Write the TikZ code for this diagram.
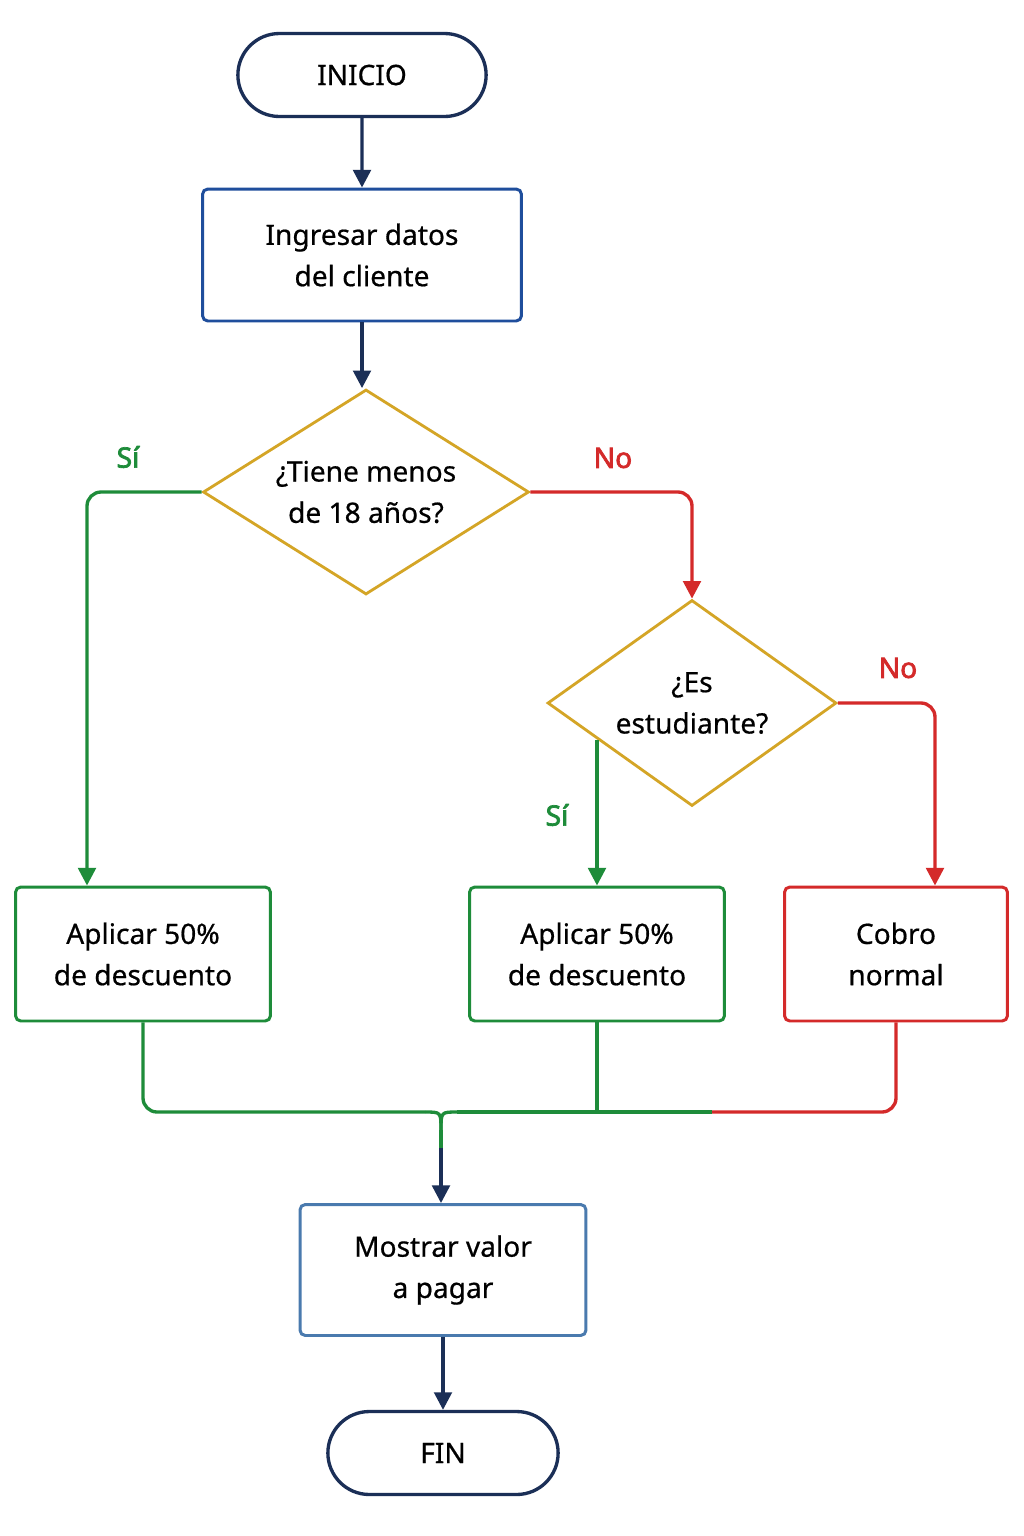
\documentclass[tikz,border=0pt]{standalone}
\usepackage{fontspec}
\setmainfont{Noto Sans}[AutoFakeBold=2.5]
\newfontfamily\bodyfont{Noto Sans}[FakeBold=0.6]
\usetikzlibrary{shapes.geometric,shapes.misc,arrows.meta}
\definecolor{navy}{HTML}{1B2F57}
\definecolor{boxblue}{HTML}{1F4E9C}
\definecolor{steel}{HTML}{4A7AAE}
\definecolor{gold}{HTML}{D4A526}
\definecolor{okgreen}{HTML}{1E8C3A}
\definecolor{nored}{HTML}{D42A2A}
\tikzset{
  term/.style={rounded rectangle, draw=navy, line width=1.9pt, minimum width=5.2cm, minimum height=1.66cm, font=\bodyfont\fontsize{16}{20}\selectfont},
  procbox/.style={rectangle, rounded corners=3pt, line width=1.7pt, align=center, font=\bodyfont\fontsize{16}{23.5}\selectfont},
  decis/.style={diamond, draw=gold, line width=1.6pt, inner sep=0pt, align=center, font=\bodyfont\fontsize{16}{23.5}\selectfont},
  arr/.style={-{Triangle[length=10pt,width=10pt]}},
  nline/.style={draw=navy, line width=1.9pt},
  gline/.style={draw=okgreen, line width=1.9pt},
  rline/.style={draw=nored, line width=1.9pt},
  lbl/.style={font=\fontsize{16}{20}\selectfont\bfseries}
}
\begin{document}
\begin{tikzpicture}[x=0.02cm,y=-0.02cm]
\useasboundingbox[fill=white] (0,0) rectangle (1024,1536);
\node[term] (inicio) at (362,75) {INICIO};
\node[procbox, draw=boxblue, minimum width=6.38cm, minimum height=2.64cm] (ingresar) at (362,255) {Ingresar datos\\del cliente};
\node[decis, aspect=1.59, minimum width=6.52cm, minimum height=4.1cm] (d1) at (366,492) {¿Tiene menos\\de 18 años?};
\node[decis, aspect=1.4, minimum width=5.78cm, minimum height=4.12cm] (d2) at (692,703) {¿Es\\estudiante?};
\node[procbox, draw=okgreen, minimum width=5.1cm, minimum height=2.68cm] (b1) at (143,954) {Aplicar 50\%\\de descuento};
\node[procbox, draw=okgreen, minimum width=5.1cm, minimum height=2.68cm] (b2) at (597,954) {Aplicar 50\%\\de descuento};
\node[procbox, draw=nored, minimum width=4.46cm, minimum height=2.68cm] (b3) at (896,954) {Cobro\\normal};
\node[procbox, draw=steel, minimum width=5.72cm, minimum height=2.62cm] (b4) at (443,1270) {Mostrar valor\\a pagar};
\node[term, minimum width=4.84cm] (fin) at (443,1453) {FIN};
\node[lbl, text=okgreen] (si1) at (128,457) {Sí};
\node[lbl, text=nored] (no1) at (613,458) {No};
\node[lbl, text=nored] (no2) at (898,668) {No};
\node[lbl, text=okgreen] (si2) at (557,815) {Sí};
\coordinate (c1) at (d1.west -| 87,0);
\coordinate (c2) at (d1.east -| d2.north);
\coordinate (c3) at (d2.east -| 935,0);
\coordinate (s2) at (597,740);
\coordinate (j) at (441,1112);
\coordinate (jl) at (425,1112);
\coordinate (jr) at (457,1112);
\coordinate (jb) at (441,1130);
\coordinate (jm) at (441,1148);
\coordinate (rm) at (712,1112);
% connectors
\draw[nline, arr] (inicio) -- (ingresar);
\draw[nline, arr] (ingresar) -- (ingresar.south |- d1.north);
\draw[gline, arr, rounded corners=8pt] (d1.west) -- (c1) -- (c1 |- b1.north);
\draw[rline, arr, rounded corners=8pt] (d1.east) -- (c2) -- (d2.north);
\draw[rline, arr, rounded corners=8pt] (d2.east) -- (c3) -- (c3 |- b3.north);
\draw[gline, arr] (s2) -- (s2 |- b2.north);
% merge
\draw[gline, rounded corners=8pt] (b1.south) |- (jl);
\draw[gline] (jl) .. controls (j) .. (jb);
\draw[gline] (jr) .. controls (j) .. (jb);
\draw[gline] (jr) -- (rm);
\draw[gline] (b2.south) -- (b2.south |- j);
\draw[rline, rounded corners=8pt] (rm) -| (b3.south);
\draw[gline] (jb) -- (jm);
\draw[nline, arr] (jm) -- (jm |- b4.north);
\draw[nline, arr] (b4.south -| fin.north) -- (fin.north);
\end{tikzpicture}
\end{document}
